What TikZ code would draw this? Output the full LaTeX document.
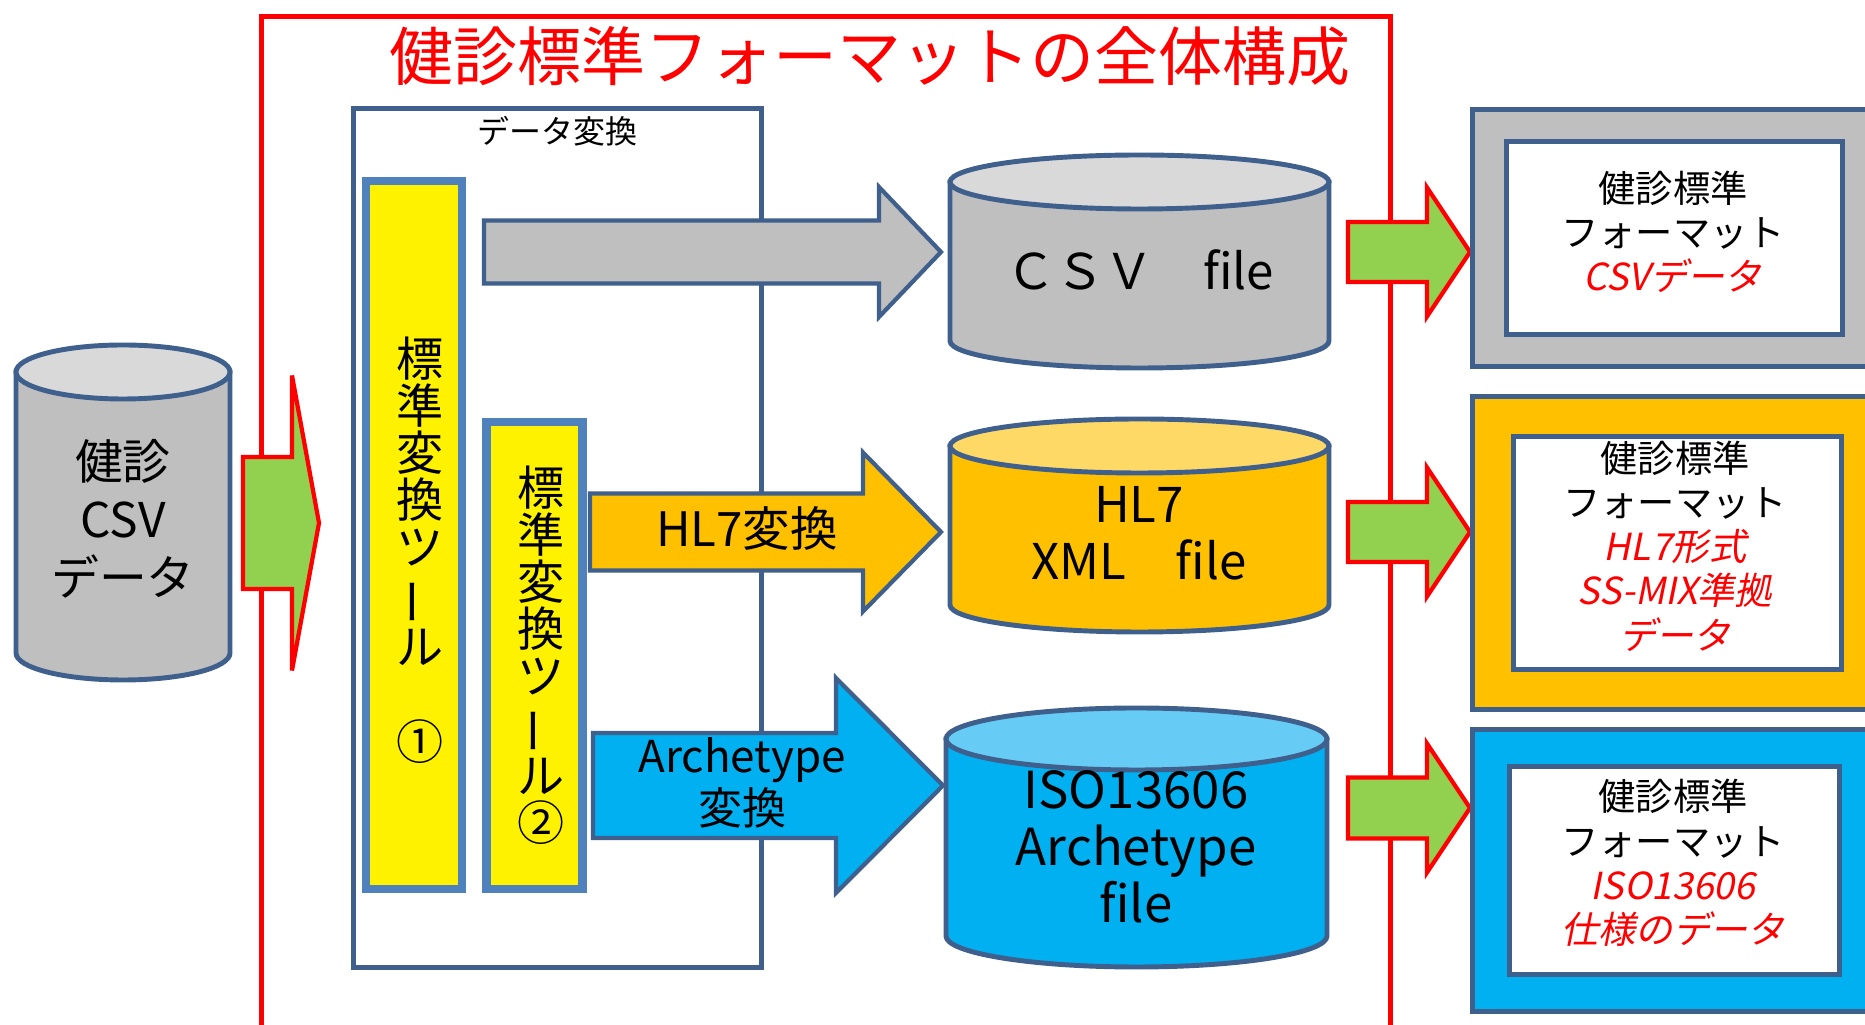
\documentclass[tikz,border=0pt]{standalone}
\usepackage{fontspec}
\usepackage{graphicx}
\setmainfont{Noto Sans CJK JP}
\newfontfamily\slfont{Noto Sans CJK JP}[FakeSlant=0.2]
\usetikzlibrary{positioning}
\definecolor{lineblue}{HTML}{3F5F8C}
\definecolor{toolblue}{HTML}{4F81BD}
\definecolor{grayfill}{HTML}{BFBFBF}
\definecolor{graytop}{HTML}{D9D9D9}
\definecolor{hlorange}{HTML}{FFC000}
\definecolor{hltop}{HTML}{FFD966}
\definecolor{isoblue}{HTML}{00B0F0}
\definecolor{isotop}{HTML}{66CCF5}
\definecolor{arrowgreen}{HTML}{92D050}
\tikzset{redframe/.style={rectangle,draw=red,line width=1.4pt,inner sep=0pt},titletext/.style={text=red,font=\fontsize{18.2}{20}\selectfont},convbox/.style={rectangle,draw=lineblue,line width=1.3pt,fill=white,inner sep=0pt},convlabel/.style={inner sep=0pt,font=\fontsize{9.1}{10}\selectfont},toolbar/.style={rectangle,draw=toolblue,line width=2.3pt,fill=yellow,minimum width=0.96cm,inner sep=0pt},tooltext/.style={inner sep=0pt,align=center,font=\fontsize{13.4}{13.4}\selectfont},bluearrow/.style={draw=lineblue,line width=1.2pt},greenarrow/.style={draw=red,line width=1.2pt,fill=arrowgreen},cylline/.style={draw=lineblue,line width=1.4pt},cyltext/.style={inner sep=0pt,align=center,font=\fontsize{14}{16.2}\selectfont},arrowtext/.style={inner sep=0pt,align=center,font=\fontsize{13.5}{14.8}\selectfont},outerbox/.style={rectangle,draw=lineblue,line width=1.4pt,anchor=north west,inner sep=0pt},innerbox/.style={rectangle,draw=lineblue,line width=1.4pt,fill=white,anchor=north west,inner sep=0pt},fmttext/.style={inner sep=0pt,align=center,font=\fontsize{10.6}{12.6}\selectfont}}
\newcommand{\ital}[1]{{\slfont\color{red}#1}}
\newcommand{\vbar}{\rotatebox[origin=c]{90}{ー}}
\newcommand{\datacyl}[7]{\filldraw[cylline,fill=#6] (#1-#4,#2) -- (#1-#4,#3) arc[start angle=180,end angle=360,x radius=#4*0.01cm,y radius=#5*0.01cm] -- (#1+#4,#2) -- cycle;
\filldraw[cylline,fill=#7] (#1,#2) ellipse[x radius=#4*0.01cm,y radius=#5*0.01cm];}
\newcommand{\blockarrow}[7]{\filldraw[#1] (#2,#5-#6) -- (#3,#5-#6) -- (#3,#5-#7) -- (#4,#5) -- (#3,#5+#7) -- (#3,#5+#6) -- (#2,#5+#6) -- cycle;}
\begin{document}
\begin{tikzpicture}[x=0.01cm,y=-0.01cm]
\useasboundingbox (0,0) rectangle (1865,1025);
\node[redframe, anchor=north west, minimum width=11.28cm, minimum height=10.12cm] (overall) at (259,14) {};
\node[titletext] (title) at (870,56) {健診標準フォーマットの全体構成};
\node[convbox, anchor=north west, minimum width=4.08cm, minimum height=8.59cm] (conv) at (351,106) {};
\node[convlabel, below=1mm of conv.north] (convname) {データ変換};
\node[toolbar, minimum height=7.08cm] (tool1) at (414,535) {};
\node[tooltext] (tool1name) at (420,501) {標\\準\\変\\換\\ツ\\\vbar\\ル};
\node[tooltext] (tool1num) at (420,742) {①};
\node[toolbar, minimum height=4.67cm] (tool2) at (534.5,655.5) {};
\node[tooltext] (tool2name) at (541,655) {標\\準\\変\\換\\ツ\\\vbar\\ル\\②};
\blockarrow{bluearrow,fill=grayfill}{484}{879}{941}{252}{31.5}{65}
\blockarrow{bluearrow,fill=hlorange}{590}{863}{941}{532}{38.5}{79.5}
\blockarrow{bluearrow,fill=isoblue}{593}{836}{943}{785.5}{52.5}{107.5}
\node[arrowtext] (hl7conv) at (747,529) {HL7変換};
\node[arrowtext, font=\fontsize{12.5}{14.8}\selectfont] (archconv) at (742,783) {Archetype\\変換};
\datacyl{123}{372}{653}{107}{27}{grayfill}{graytop}
\node[cyltext, font=\fontsize{13.6}{16.5}\selectfont] (srccsv) at (123,519) {健診\\CSV\\データ};
\datacyl{1139.5}{182}{341}{189.5}{27}{grayfill}{graytop}
\node[cyltext] (csvfile) at (1140,270) {ＣＳＶ　file};
\datacyl{1139.5}{446}{605}{189.5}{27}{hlorange}{hltop}
\node[cyltext] (hl7file) at (1139,533) {HL7\\XML　file};
\datacyl{1136.5}{739}{936}{190.5}{31}{isoblue}{isotop}
\node[cyltext, font=\fontsize{14.5}{16.2}\selectfont] (isofile) at (1136,847) {ISO13606\\Archetype\\file};
\blockarrow{greenarrow}{243}{292}{319}{523}{66}{147.5}
\blockarrow{greenarrow}{1348}{1427}{1470}{252}{30}{64.5}
\blockarrow{greenarrow}{1348}{1427}{1470}{532}{30}{64.5}
\blockarrow{greenarrow}{1348}{1427}{1470}{808}{30.5}{64.5}
\node[outerbox, fill=grayfill, minimum width=4.3cm, minimum height=2.57cm] (csvout) at (1470,107) {};
\node[innerbox, minimum width=3.36cm, minimum height=1.93cm] (csvfmt) at (1504,139) {};
\node[fmttext] (csvfmttext) at (1673,232) {健診標準\\フォーマット\\\ital{CSVデータ}};
\node[outerbox, fill=hlorange, minimum width=4.3cm, minimum height=3.13cm] (hl7out) at (1470,394) {};
\node[innerbox, minimum width=3.28cm, minimum height=2.33cm] (hl7fmt) at (1511,434) {};
\node[fmttext] (hl7fmttext) at (1675,546) {健診標準\\フォーマット\\\ital{HL7形式}\\\ital{SS-MIX準拠}\\\ital{データ}};
\node[outerbox, fill=isoblue, minimum width=4.3cm, minimum height=2.82cm] (isoout) at (1470,727) {};
\node[innerbox, minimum width=3.30cm, minimum height=2.08cm] (isofmt) at (1507,764) {};
\node[fmttext] (isofmttext) at (1673,863) {健診標準\\フォーマット\\\ital{ISO13606}\\\ital{仕様のデータ}};
\end{tikzpicture}
\end{document}
